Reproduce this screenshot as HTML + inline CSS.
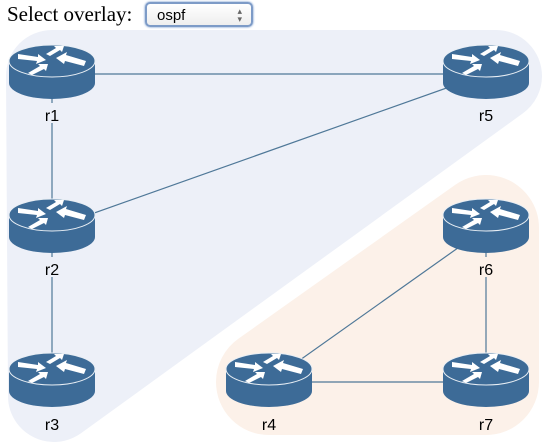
<!DOCTYPE html>
<html style="overflow:hidden"><head><style>
body{margin:0;width:547px;height:442px;overflow:hidden;background:#fff;font-family:"Liberation Serif",serif;position:relative;}
.hdr{position:absolute;left:7px;top:2px;font-size:21px;color:#000;}
.sel{position:absolute;left:145px;top:2px;width:108px;height:25px;border:2px solid #7d9bc7;border-radius:5px;background:linear-gradient(#fff,#eee);box-sizing:border-box;font-family:"Liberation Sans",sans-serif;font-size:15px;padding:3px 0 0 10px;box-shadow:0 0 2px #5b86c5;}
.sel span{position:absolute;right:9px;top:3px;font-size:9px;color:#666;line-height:8px}
svg{position:absolute;left:0;top:0}
</style></head><body>
<svg width="547" height="442">
<defs>
<g id="rt">
<path d="M-43,-13 L-43,9 A43,16 0 0 0 43,9 L43,-13 Z" fill="#3d6b97"/>
<ellipse cx="0" cy="-13" rx="43" ry="16" fill="#3d6b97" stroke="#e8eef4" stroke-width="1"/>
<g fill="#fff">
<polygon points="-34,-20 -14,-17 -14,-20 -6,-14 -16,-10 -15,-13 -34,-15"/>
<polygon points="-24,-1 -12,-8 -14,-10 -4,-10 -6,-3 -8,-5 -20,1"/>
<polygon points="-6,-20 4,-26 2,-28 12,-28 10,-22 8,-24 -2,-18"/>
<polygon points="34,-13 14,-19 15,-22 4,-16 12,-10 13,-13 32,-8"/>
</g>
</g>
</defs>
<path d="M52,76 L496,76 L54,396 Z" fill="#edf0f8" stroke="#edf0f8" stroke-width="92" stroke-linejoin="round"/>
<path d="M269,382 L486,228 L486,382 Z" fill="#fcf1e9" stroke="#fcf1e9" stroke-width="106" stroke-linejoin="round"/>
<g stroke="#4f7898" stroke-width="1.2">
<line x1="52" y1="74" x2="486" y2="74"/>
<line x1="52" y1="74" x2="52" y2="228"/>
<line x1="52" y1="228" x2="486" y2="74"/>
<line x1="52" y1="228" x2="52" y2="382"/>
<line x1="269" y1="382" x2="486" y2="228"/>
<line x1="269" y1="382" x2="486" y2="382"/>
<line x1="486" y1="228" x2="486" y2="382"/>
</g>
<use href="#rt" x="52" y="74"/>
<use href="#rt" x="486" y="74"/>
<use href="#rt" x="52" y="228"/>
<use href="#rt" x="52" y="382"/>
<use href="#rt" x="269" y="382"/>
<use href="#rt" x="486" y="228"/>
<use href="#rt" x="486" y="382"/>
<g font-family="Liberation Sans, sans-serif" font-size="16" text-anchor="middle" fill="#000">
<rect x="44" y="103" width="16" height="20" fill="#edf0f8"/>
<rect x="478" y="103" width="16" height="20" fill="#edf0f8"/>
<rect x="44" y="257" width="16" height="20" fill="#edf0f8"/>
<rect x="478" y="257" width="16" height="20" fill="#fcf1e9"/>
<text x="52" y="121">r1</text>
<text x="486" y="121">r5</text>
<text x="52" y="275">r2</text>
<text x="52" y="430">r3</text>
<text x="269" y="430">r4</text>
<text x="486" y="275">r6</text>
<text x="486" y="430">r7</text>
</g>
</svg>
<div class="hdr">Select overlay:</div>
<div class="sel">ospf<span>▴<br>▾</span></div>
</body></html>
